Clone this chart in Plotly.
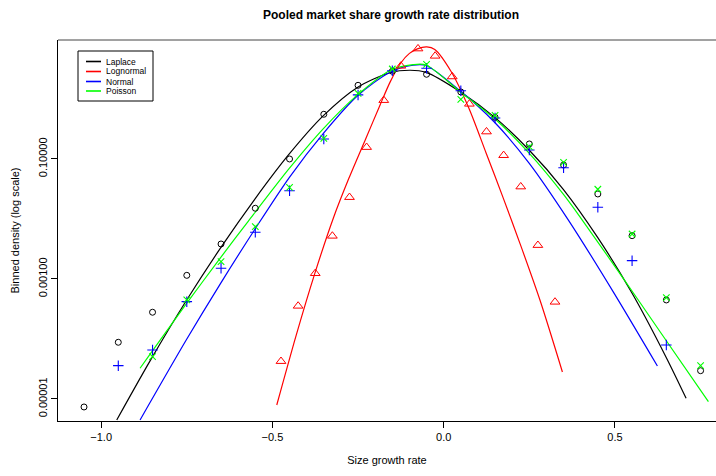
import plotly.graph_objects as go

# ---- binned empirical densities (log scale) ----
bins_laplace = [-1.05, -0.95, -0.85, -0.75, -0.65, -0.55, -0.45, -0.35, -0.25, -0.15,
                -0.05, 0.05, 0.15, 0.25, 0.35, 0.45, 0.55, 0.65, 0.75]
dens_laplace = [7.36e-6, 8.81e-5, 2.79e-4, 1.15e-3, 3.83e-3, 1.51e-2, 0.100, 0.556, 1.69, 2.90,
                2.58, 1.31, 0.495, 0.178, 0.0794, 0.0261, 5.27e-3, 4.47e-4, 2.96e-5]

bins_normal = [-0.95, -0.85, -0.75, -0.65, -0.55, -0.45, -0.35, -0.25, -0.15, -0.05,
               0.05, 0.15, 0.25, 0.35, 0.45, 0.55, 0.65]
dens_normal = [3.59e-5, 6.56e-5, 4.19e-4, 1.51e-3, 6.0e-3, 0.0296, 0.215, 1.17, 2.96, 3.25,
               1.37, 0.482, 0.141, 0.0716, 0.0157, 2.02e-3, 7.94e-5]

bins_poisson = [-0.85, -0.75, -0.65, -0.55, -0.45, -0.35, -0.25, -0.15, -0.05, 0.05,
                0.15, 0.25, 0.35, 0.45, 0.55, 0.65, 0.75]
dens_poisson = [5.07e-5, 4.47e-4, 1.94e-3, 7.45e-3, 0.0337, 0.221, 1.24, 3.16, 3.78, 0.989,
                0.535, 0.160, 0.0881, 0.0313, 5.62e-3, 4.88e-4, 3.59e-5]

bins_lognormal = [-0.475, -0.425, -0.375, -0.325, -0.275, -0.225, -0.175, -0.125, -0.075,
                  -0.025, 0.025, 0.075, 0.125, 0.175, 0.225, 0.275, 0.325]
dens_lognormal = [4.25e-5, 3.55e-4, 1.24e-3, 5.21e-3, 0.0230, 0.157, 0.951, 3.55, 6.89,
                  5.21, 2.36, 0.826, 0.285, 0.115, 0.0345, 3.65e-3, 4.14e-4]

# ---- fitted density curves ----
fit_x_laplace = [-0.9545, -0.8572, -0.7521, -0.6508, -0.5507, -0.4514, -0.3512, -0.2508, -0.1565,
                 -0.0981, -0.0514, 0.0479, 0.1492, 0.2493, 0.3486, 0.4499, 0.5501, 0.6493, 0.7077]
fit_y_laplace = [4.47e-6, 4.32e-5, 4.29e-4, 3.33e-3, 0.0217, 0.120, 0.527, 1.57, 2.74,
                 3.01, 2.77, 1.32, 0.493, 0.141, 0.0315, 4.88e-3, 5.78e-4, 4.98e-5, 1.03e-5]

fit_x_normal = [-0.8864, -0.7521, -0.6508, -0.5507, -0.4514, -0.3512, -0.2508, -0.1565, -0.0893,
                -0.0514, 0.0479, 0.1492, 0.2493, 0.3641, 0.4955, 0.6239]
fit_y_normal = [4.47e-6, 9.51e-5, 8.55e-4, 6.81e-3, 0.0486, 0.267, 1.14, 2.79, 3.65,
                3.61, 1.37, 0.405, 0.0855, 9.59e-3, 6.05e-4, 3.55e-5]

fit_x_poisson = [-0.8864, -0.7521, -0.6508, -0.5702, -0.4514, -0.3512, -0.2508, -0.1565, -0.0893,
                 -0.0514, 0.0479, 0.1492, 0.2493, 0.3486, 0.3953, 0.5150, 0.6318, 0.7728]
fit_y_poisson = [3.25e-5, 3.80e-4, 2.29e-3, 9.23e-3, 0.0689, 0.321, 1.18, 2.99, 3.73,
                 3.69, 1.32, 0.468, 0.125, 0.0262, 0.0114, 1.22e-3, 1.32e-4, 9.02e-6]

fit_x_lognormal = [-0.4873, -0.4309, -0.3764, -0.322, -0.2771, -0.2266, -0.1857, -0.1565, -0.1253,
                   -0.10, -0.0768, -0.0493, -0.026, 0.0225, 0.0733, 0.1238, 0.1734, 0.2231,
                   0.2815, 0.3466]
fit_y_lognormal = [7.94e-6, 1.14e-4, 1.23e-3, 0.0104, 0.0471, 0.224, 0.794, 1.91, 3.98,
                   5.75, 6.84, 7.36, 6.68, 2.82, 0.708, 0.126, 0.0227, 3.85e-3,
                   4.37e-4, 2.82e-5]

x_ticks = [-1.0, -0.5, 0.0, 0.5]
x_tick_text = ["\u22121.0", "\u22120.5", "0.0", "0.5"]
y_ticks = [1e-5, 1e-3, 1e-1]
y_tick_text = ["0.00001", "0.00100", "0.10000"]

legend_names = ["Laplace", "Lognormal", "Normal", "Poisson"]
colors = {"Laplace": "#000000", "Lognormal": "#FF0000", "Normal": "#0000FF", "Poisson": "#00FF00"}

FONT = "Liberation Sans, Arial, Helvetica, sans-serif"
W, H = 716, 476
L, R, T, B = 58, 0, 40, 55
PW, PH = W - L - R, H - T - B


def px_x(px):
    return (px - L) / PW


def px_y(py):
    return (H - B - py) / PH


fig = go.Figure()

# fitted curves
for name, fx, fy in [("Laplace", fit_x_laplace, fit_y_laplace),
                     ("Lognormal", fit_x_lognormal, fit_y_lognormal),
                     ("Normal", fit_x_normal, fit_y_normal),
                     ("Poisson", fit_x_poisson, fit_y_poisson)]:
    fig.add_trace(go.Scatter(x=fx, y=fy, mode="lines", name=name,
                             line=dict(color=colors[name], width=1.2, shape="spline", smoothing=0.8),
                             showlegend=False, hoverinfo="skip"))

# binned points
fig.add_trace(go.Scatter(x=bins_laplace, y=dens_laplace, mode="markers", showlegend=False,
                         marker=dict(symbol="circle-open", size=6, color="#000000",
                                     line=dict(width=1, color="#000000"))))
fig.add_trace(go.Scatter(x=bins_lognormal, y=dens_lognormal, mode="markers", showlegend=False,
                         marker=dict(symbol="triangle-up-open", size=8.5, color="#FF0000",
                                     line=dict(width=1, color="#FF0000"))))
fig.add_trace(go.Scatter(x=bins_normal, y=dens_normal, mode="markers", showlegend=False,
                         marker=dict(symbol="cross-thin-open", size=7.5, color="#0000FF",
                                     line=dict(width=1.1, color="#0000FF"))))
fig.add_trace(go.Scatter(x=bins_poisson, y=dens_poisson, mode="markers", showlegend=False,
                         marker=dict(symbol="x-thin-open", size=6.5, color="#00FF00",
                                     line=dict(width=1.1, color="#00FF00"))))

shapes = []
annotations = []

# top frame line
shapes.append(dict(type="line", xref="paper", yref="paper", x0=0, x1=1, y0=1, y1=1,
                   line=dict(color="#444444", width=1)))

# legend box
shapes.append(dict(type="rect", xref="paper", yref="paper",
                   x0=px_x(78), x1=px_x(153), y0=px_y(101), y1=px_y(51),
                   line=dict(color="#000000", width=1), fillcolor="white", layer="above"))
legend_rows = [61.5, 71.5, 81.5, 91.0]
for name, ry in zip(legend_names, legend_rows):
    shapes.append(dict(type="line", xref="paper", yref="paper",
                       x0=px_x(86), x1=px_x(101), y0=px_y(ry), y1=px_y(ry),
                       line=dict(color=colors[name], width=1.6), layer="above"))
    annotations.append(dict(text=name, xref="paper", yref="paper", x=px_x(104), y=px_y(ry),
                            xanchor="left", yanchor="middle", showarrow=False,
                            font=dict(family=FONT, size=8.5, color="#000000")))

fig.update_layout(
    width=W, height=H, autosize=False,
    margin=dict(l=L, r=R, t=T, b=B, pad=0),
    paper_bgcolor="white", plot_bgcolor="white",
    title=dict(text="<b>Pooled market share growth rate distribution</b>",
               xref="container", yref="container", x=391 / W, y=1 - 15 / H,
               xanchor="center", yanchor="middle",
               font=dict(family=FONT, size=12, color="#000000")),
    xaxis=dict(range=[-1.126, 0.795], tickvals=x_ticks, ticktext=x_tick_text,
               ticks="outside", ticklen=6, tickwidth=1, tickcolor="#000000",
               showline=True, linecolor="#000000", linewidth=1,
               showgrid=False, zeroline=False,
               tickfont=dict(family=FONT, size=11, color="#000000"),
               title=dict(text="Size growth rate", standoff=14,
                          font=dict(family=FONT, size=11, color="#000000"))),
    yaxis=dict(type="log", range=[-5.367, 0.983], tickvals=y_ticks, ticktext=y_tick_text,
               tickangle=-90,
               ticks="outside", ticklen=6, tickwidth=1, tickcolor="#000000",
               showline=True, linecolor="#000000", linewidth=1,
               showgrid=False, zeroline=False,
               tickfont=dict(family=FONT, size=11, color="#000000"),
               title=dict(text="Binned density (log scale)", standoff=14,
                          font=dict(family=FONT, size=11, color="#000000"))),
    shapes=shapes,
    annotations=annotations,
    showlegend=False,
)

fig.write_html("out.html")
